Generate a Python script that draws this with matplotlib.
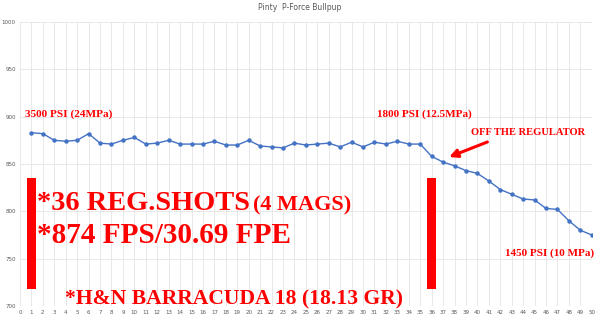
import numpy as np
import matplotlib
matplotlib.use("Agg")
import matplotlib.pyplot as plt

# ---------- Data ----------
shots = list(range(1, 51))
fps = [883, 882, 875, 874, 875, 882, 872, 871, 875, 878,
       871, 872, 875, 871, 871, 871, 874, 870, 870, 875,
       869, 868, 867, 872, 870, 871, 872, 868, 873, 868,
       873, 871, 874, 871, 871, 858, 852, 848, 843, 840,
       832, 823, 818, 813, 812, 803, 802, 790, 780, 775]

# red marker bars (start / end of regulated string)
marker_x = [1, 36]
marker_low = 718
marker_high = 835

title = "Pinty  P-Force Bullpup"
x_ticks = list(range(0, 51))
y_ticks = [700, 750, 800, 850, 900, 950, 1000]

RED = "#ff0000"
BLUE = "#4472c4"
SERIF = "Liberation Serif"

# ---------- Figure ----------
fig = plt.figure(figsize=(6.0, 3.21), dpi=100)
ax = fig.add_axes([0.0333, 0.0467, 0.953, 0.885])

ax.plot(shots, fps, color=BLUE, linewidth=1.0, marker="o", markersize=2.2, zorder=3)

ax.set_xlim(0, 50)
ax.set_ylim(700, 1000)
ax.set_xticks(x_ticks)
ax.set_yticks(y_ticks)
ax.tick_params(axis="both", length=0, labelsize=4, labelcolor="#595959", pad=3)
ax.grid(True, color="#e4e4e4", linewidth=0.6)
ax.set_axisbelow(True)
for s in ax.spines.values():
    s.set_visible(False)
ax.axhline(700, color="#d0d0d0", linewidth=0.7, zorder=1)

fig.text(0.5, 0.978, title, ha="center", va="center", fontsize=5.5, color="#595959")

# red bars
ax.bar(marker_x, marker_high - marker_low, bottom=marker_low, width=0.8,
       color=RED, zorder=4)

# ---------- Annotations ----------
def label(x, y, s, size):
    ax.text(x, y, s, color=RED, fontsize=size, fontfamily=SERIF,
            fontweight="bold", ha="left", va="baseline", zorder=5)

label(0.44, 899.6, "3500 PSI (24MPa)", 8.1)
label(31.2, 899.6, "1800 PSI (12.5MPa)", 8.0)
label(39.4, 880.6, "OFF THE REGULATOR", 7.6)
label(42.4, 752.8, "1450 PSI (10 MPa)", 8.0)
label(1.49, 801.4, "*36 REG.SHOTS", 20.4)
label(20.37, 801.4, "(4 MAGS)", 16)
label(1.49, 766.6, "*874 FPS/30.69 FPE", 21.1)
label(3.93, 701.1, "*H&N BARRACUDA 18 (18.13 GR)", 15.6)

ax.annotate("", xy=(37.3, 856.3), xytext=(41.1, 874.3),
            arrowprops=dict(arrowstyle="-|>", color=RED, lw=2.2,
                            mutation_scale=12), zorder=5)

fig.savefig("out.png", dpi=100)
